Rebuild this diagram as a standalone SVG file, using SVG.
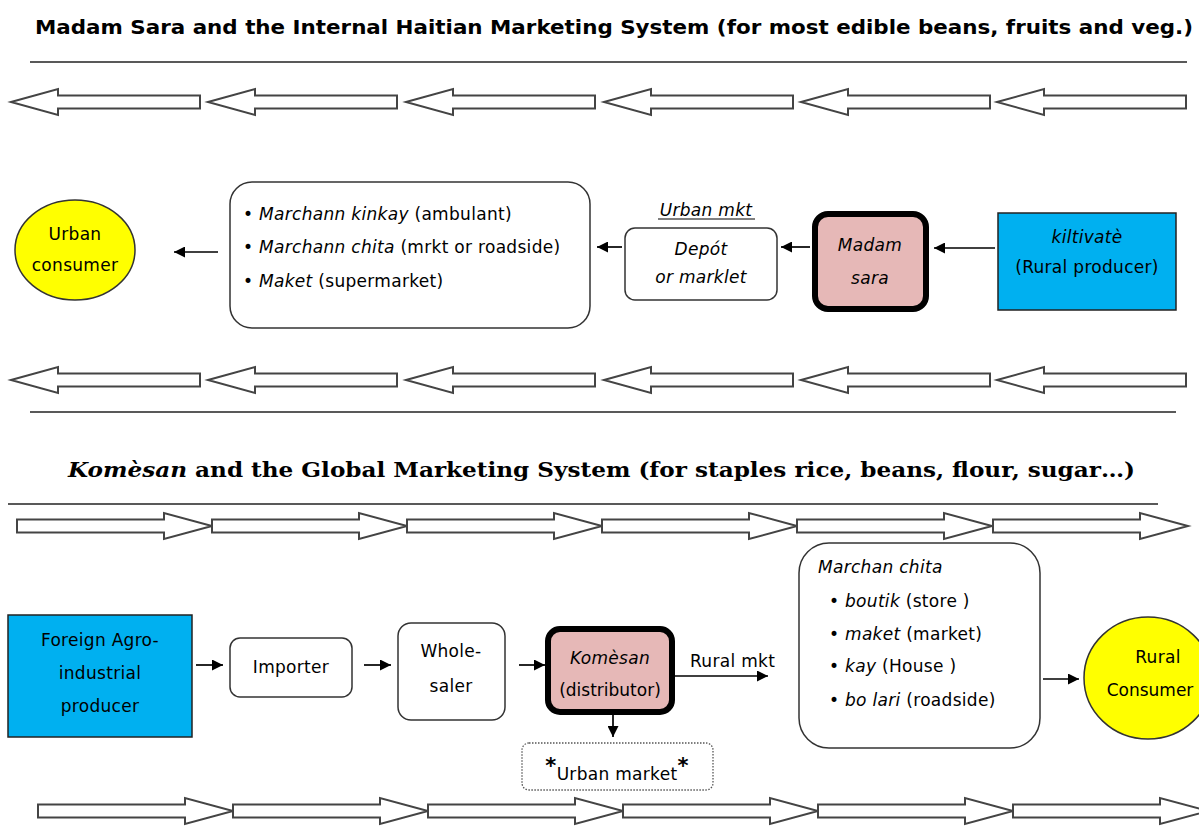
<svg xmlns="http://www.w3.org/2000/svg" width="1199" height="827" viewBox="0 0 1199 827">
<style>
.t{font-family:"DejaVu Sans",Verdana,sans-serif;font-size:17px;letter-spacing:0.3px;fill:#000}
.i{font-style:italic}
.c{text-anchor:middle}
.rule{stroke:#222;stroke-width:1.6}
.blk{fill:#fff;stroke:#444;stroke-width:2;stroke-linejoin:miter}
.box{fill:#fff;stroke:#333;stroke-width:1.5}
.conn{stroke:#000;stroke-width:1.7;fill:none}
</style>
<defs>
<path id="la" class="blk" d="M0,0 L47,-13 L47,-6.5 L189,-6.5 L189,6.5 L47,6.5 L47,13 Z"/>
<path id="ra" class="blk" d="M0,-6.5 L147,-6.5 L147,-13 L195,0 L147,13 L147,6.5 L0,6.5 Z"/>
<marker id="ah" viewBox="0 0 10 10" refX="10" refY="5" markerWidth="11" markerHeight="11" markerUnits="userSpaceOnUse" orient="auto">
<path d="M0,0 L10,5 L0,10 Z" fill="#000"/>
</marker>
</defs>
<rect width="1199" height="827" fill="#fff"/>

<g id="title1">
<text x="35" y="34" font-family="'DejaVu Sans',Verdana,sans-serif" font-weight="bold" font-size="19" textLength="1158" lengthAdjust="spacingAndGlyphs">Madam Sara and the Internal Haitian Marketing System (for most edible beans, fruits and veg.)</text>
</g>
<line class="rule" x1="30" y1="62" x2="1187" y2="62"/>

<g id="arrows-row1">
<use href="#la" x="11" y="102"/>
<use href="#la" x="208" y="102"/>
<use href="#la" x="406" y="102"/>
<use href="#la" x="604" y="102"/>
<use href="#la" x="801" y="102"/>
<use href="#la" x="997" y="102"/>
</g>

<g id="urban-consumer">
<ellipse cx="75" cy="250" rx="60" ry="50" fill="#FFFF00" stroke="#333" stroke-width="1.5"/>
<text class="t c" x="75" y="240">Urban</text>
<text class="t c" x="75" y="271">consumer</text>
</g>

<g id="retailers">
<rect class="box" x="230" y="182" width="360" height="146" rx="22"/>
<text class="t" x="243" y="220">• <tspan class="i">Marchann kinkay</tspan> (ambulant)</text>
<text class="t" x="243" y="253">• <tspan class="i">Marchann chita</tspan> (mrkt or roadside)</text>
<text class="t" x="243" y="287">• <tspan class="i">Maket</tspan> (supermarket)</text>
</g>

<g id="urban-mkt-label">
<text class="t i c" x="706" y="216">Urban mkt</text>
<line x1="658" y1="219" x2="755" y2="219" stroke="#000" stroke-width="1"/>
</g>

<g id="depot">
<rect class="box" x="625" y="228" width="152" height="72" rx="10"/>
<text class="t i c" x="701" y="255">Depót</text>
<text class="t i c" x="701" y="283">or marklet</text>
</g>

<g id="madam-sara">
<rect x="815" y="214" width="111" height="95" rx="13" fill="#E6B8B7" stroke="#000" stroke-width="6"/>
<text class="t i c" x="870" y="251">Madam</text>
<text class="t i c" x="870" y="284">sara</text>
</g>

<g id="kiltivate">
<rect x="998" y="213" width="178" height="97" fill="#00B0F0" stroke="#222" stroke-width="1.5"/>
<text class="t i c" x="1087" y="243">kiltivatè</text>
<text class="t c" x="1087" y="273">(Rural producer)</text>
</g>

<g id="arrows-row2">
<use href="#la" x="11" y="380"/>
<use href="#la" x="208" y="380"/>
<use href="#la" x="406" y="380"/>
<use href="#la" x="604" y="380"/>
<use href="#la" x="801" y="380"/>
<use href="#la" x="997" y="380"/>
</g>
<line class="rule" x1="30" y1="412" x2="1176" y2="412"/>

<g id="title2">
<text x="68" y="477" font-family="'DejaVu Serif','Liberation Serif',serif" font-weight="bold" font-size="20" textLength="1067" lengthAdjust="spacingAndGlyphs"><tspan font-style="italic">Komèsan</tspan> and the Global Marketing System (for staples rice, beans, flour, sugar…)</text>
</g>
<line class="rule" x1="8" y1="504" x2="1158" y2="504"/>

<g id="arrows-row3">
<use href="#ra" x="17" y="526"/>
<use href="#ra" x="212" y="526"/>
<use href="#ra" x="407" y="526"/>
<use href="#ra" x="602" y="526"/>
<use href="#ra" x="797" y="526"/>
<use href="#ra" x="993" y="526"/>
</g>

<g id="foreign-producer">
<rect x="8" y="615" width="184" height="122" fill="#00B0F0" stroke="#222" stroke-width="1.5"/>
<text class="t c" x="100" y="646">Foreign Agro-</text>
<text class="t c" x="100" y="679">industrial</text>
<text class="t c" x="100" y="712">producer</text>
</g>

<g id="importer">
<rect class="box" x="230" y="638" width="122" height="59" rx="10"/>
<text class="t c" x="291" y="673">Importer</text>
</g>

<g id="wholesaler">
<rect class="box" x="398" y="623" width="107" height="97" rx="13"/>
<text class="t c" x="451" y="657">Whole-</text>
<text class="t c" x="451" y="692">saler</text>
</g>

<g id="komesan">
<rect x="548" y="629" width="124" height="83" rx="12" fill="#E6B8B7" stroke="#000" stroke-width="6"/>
<text class="t i c" x="610" y="664">Komèsan</text>
<text class="t c" x="610" y="696" style="letter-spacing:0">(distributor)</text>
</g>

<g id="urban-market">
<rect x="522" y="743" width="191" height="47" rx="7" fill="#fff" stroke="#555" stroke-width="1.3" stroke-dasharray="1.5,1.5"/>
<text class="t c" x="617" y="780"><tspan font-weight="bold" font-size="21" dy="-7">*</tspan><tspan dy="7">Urban market</tspan><tspan font-weight="bold" font-size="21" dy="-7">*</tspan></text>
</g>

<g id="marchan-chita">
<rect class="box" x="799" y="543" width="241" height="205" rx="30"/>
<text class="t i" x="818" y="573">Marchan chita</text>
<text class="t" x="829" y="607">• <tspan class="i">boutik</tspan> (store )</text>
<text class="t" x="829" y="640">• <tspan class="i">maket</tspan>  (market)</text>
<text class="t" x="829" y="672">• <tspan class="i">kay</tspan>  (House )</text>
<text class="t" x="829" y="706">• <tspan class="i">bo lari</tspan> (roadside)</text>
</g>

<g id="rural-consumer">
<ellipse cx="1148" cy="678" rx="64" ry="61" fill="#FFFF00" stroke="#333" stroke-width="1.5"/>
<text class="t c" x="1158" y="663">Rural</text>
<text class="t c" x="1150" y="696" style="letter-spacing:0">Consumer</text>
</g>

<g id="arrows-row4">
<use href="#ra" x="38" y="811"/>
<use href="#ra" x="233" y="811"/>
<use href="#ra" x="428" y="811"/>
<use href="#ra" x="623" y="811"/>
<use href="#ra" x="818" y="811"/>
<use href="#ra" x="1013" y="811"/>
</g>

<g id="connectors">
<line class="conn" x1="218" y1="252" x2="174" y2="252" marker-end="url(#ah)"/>
<line class="conn" x1="622" y1="247" x2="597" y2="247" marker-end="url(#ah)"/>
<line class="conn" x1="810" y1="247" x2="781" y2="247" marker-end="url(#ah)"/>
<line class="conn" x1="995" y1="248" x2="934" y2="248" marker-end="url(#ah)"/>
<line class="conn" x1="196" y1="665" x2="223" y2="665" marker-end="url(#ah)"/>
<line class="conn" x1="364" y1="665" x2="391" y2="665" marker-end="url(#ah)"/>
<line class="conn" x1="519" y1="665" x2="545" y2="665" marker-end="url(#ah)"/>
<line class="conn" x1="675" y1="676" x2="768" y2="676" marker-end="url(#ah)"/>
<text class="t" x="690" y="667">Rural mkt</text>
<line class="conn" x1="613" y1="715" x2="613" y2="737" marker-end="url(#ah)"/>
<line class="conn" x1="1043" y1="679" x2="1079" y2="679" marker-end="url(#ah)"/>
</g>
</svg>
